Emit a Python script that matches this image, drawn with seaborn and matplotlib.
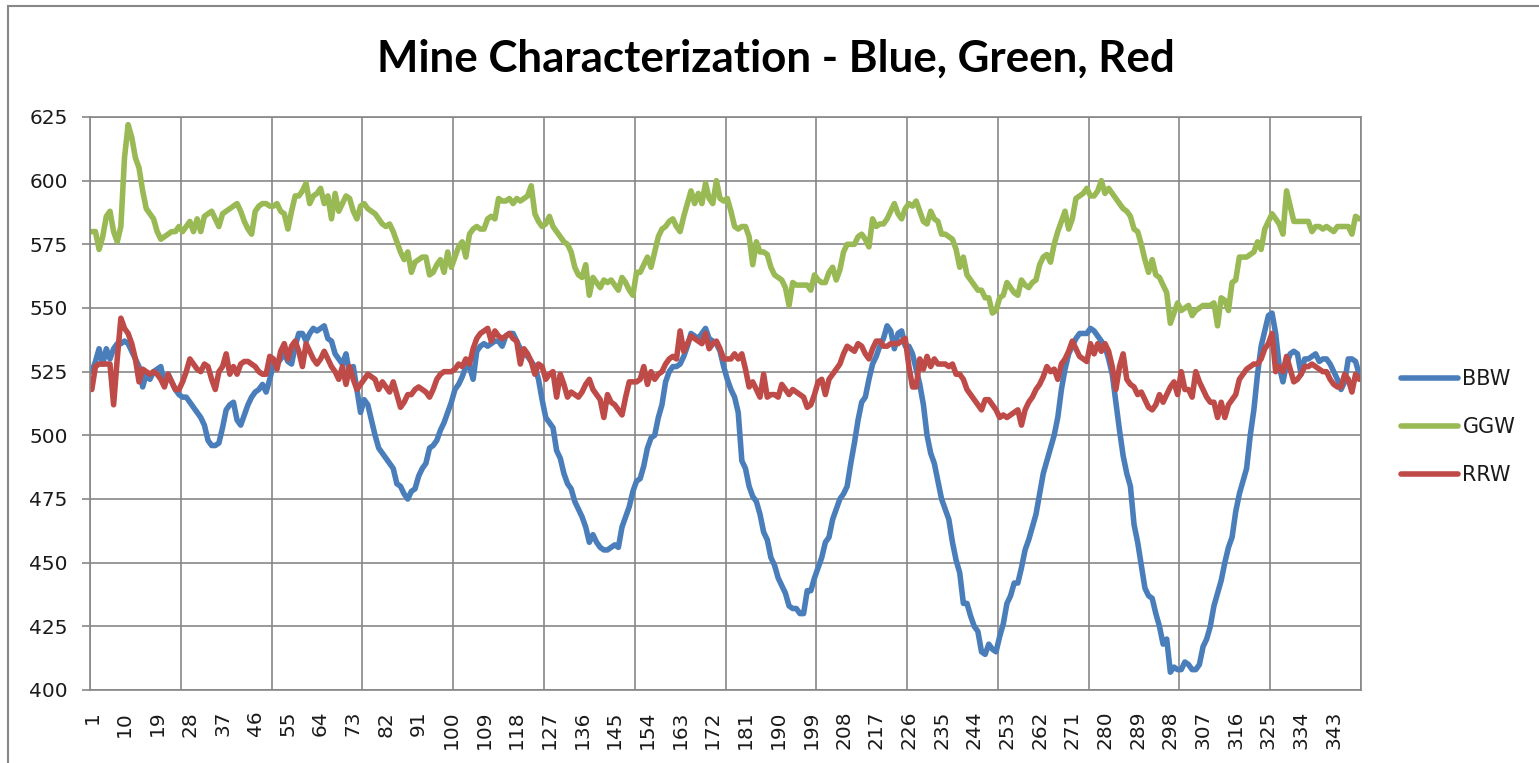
import numpy as np
import pandas as pd
import matplotlib
matplotlib.use("Agg")
import matplotlib.pyplot as plt
import seaborn as sns
from matplotlib.patches import Rectangle

# ---------------- data ----------------
categories = list(range(1, 351))

bbw = [
    525, 529, 534, 528, 534, 530, 534, 536, 536, 537,
    536, 533, 530, 527, 519, 524, 522, 525, 526, 527,
    520, 524, 521, 518, 516, 515, 515, 513, 511, 509,
    507, 504, 498, 496, 496, 497, 503, 510, 512, 513,
    506, 504, 508, 512, 515, 517, 518, 520, 517, 522,
    528, 528, 530, 532, 529, 528, 535, 540, 540, 537,
    540, 542, 541, 542, 543, 538, 537, 532, 530, 528,
    532, 524, 527, 518, 509, 514, 512, 506, 500, 495,
    493, 491, 489, 487, 481, 480, 477, 475, 478, 479,
    484, 487, 489, 495, 496, 498, 502, 505, 509, 513,
    518, 520, 523, 527, 527, 522, 533, 535, 536, 535,
    536, 537, 537, 535, 539, 540, 540, 537, 534, 532,
    531, 529, 527, 522, 514, 507, 505, 503, 494, 491,
    485, 481, 479, 474, 471, 468, 464, 458, 461, 458,
    456, 455, 455, 456, 457, 456, 464, 468, 472, 478,
    482, 483, 488, 495, 499, 500, 507, 512, 521, 525,
    527, 527, 528, 531, 535, 540, 539, 538, 540, 542,
    538, 537, 536, 533, 527, 522, 518, 515, 509, 490,
    487, 480, 476, 474, 469, 462, 459, 452, 449, 444,
    441, 438, 433, 432, 432, 430, 430, 439, 439, 444,
    448, 452, 458, 460, 467, 471, 475, 477, 480, 489,
    497, 506, 513, 515, 522, 528, 531, 535, 538, 543,
    541, 534, 540, 541, 535, 535, 532, 526, 520, 512,
    500, 493, 489, 482, 475, 471, 467, 458, 451, 446,
    434, 434, 429, 425, 423, 415, 414, 418, 416, 415,
    421, 426, 434, 437, 442, 442, 448, 455, 459, 464,
    469, 477, 485, 490, 495, 500, 507, 518, 526, 532,
    535, 538, 540, 540, 540, 542, 541, 539, 537, 535,
    530, 524, 513, 502, 492, 485, 480, 465, 458, 449,
    440, 437, 436, 430, 425, 418, 420, 407, 409, 408,
    408, 411, 410, 408, 408, 410, 417, 420, 425, 433,
    438, 443, 450, 456, 460, 470, 477, 482, 487, 500,
    510, 524, 535, 541, 547, 548, 540, 527, 521, 528,
    532, 533, 532, 524, 530, 530, 531, 532, 529, 530,
    530, 528, 525, 522, 518, 521, 530, 530, 529, 524,
]

ggw = [
    580, 580, 573, 578, 586, 588, 580, 576, 582, 609,
    622, 617, 609, 605, 596, 589, 587, 585, 580, 577,
    578, 579, 580, 580, 582, 580, 582, 584, 580, 585,
    580, 586, 587, 588, 585, 582, 587, 588, 589, 590,
    591, 588, 584, 581, 579, 588, 590, 591, 591, 590,
    590, 591, 588, 587, 581, 588, 594, 594, 596, 599,
    591, 594, 595, 597, 591, 594, 585, 595, 588, 591,
    594, 593, 588, 585, 590, 591, 589, 588, 587, 585,
    583, 582, 583, 580, 576, 572, 569, 572, 564, 568,
    569, 570, 570, 563, 564, 567, 569, 564, 572, 566,
    570, 574, 576, 570, 579, 581, 582, 581, 581, 585,
    586, 585, 593, 592, 592, 593, 591, 593, 592, 593,
    594, 598, 587, 584, 582, 583, 586, 582, 580, 578,
    576, 575, 572, 566, 563, 562, 567, 555, 562, 560,
    558, 561, 560, 561, 559, 557, 562, 560, 557, 555,
    564, 564, 567, 570, 566, 572, 578, 581, 582, 584,
    585, 582, 580, 586, 591, 596, 591, 595, 591, 599,
    593, 591, 600, 593, 592, 593, 588, 582, 581, 582,
    582, 578, 567, 576, 572, 572, 571, 566, 563, 562,
    561, 558, 551, 560, 559, 559, 559, 559, 557, 563,
    561, 560, 560, 564, 566, 561, 565, 572, 575, 575,
    575, 578, 579, 577, 574, 585, 582, 583, 583, 585,
    588, 591, 587, 585, 589, 591, 590, 592, 588, 584,
    583, 588, 585, 584, 579, 579, 578, 577, 573, 566,
    570, 563, 561, 559, 557, 557, 554, 554, 548, 549,
    554, 555, 560, 558, 556, 555, 561, 559, 558, 560,
    561, 567, 570, 571, 568, 575, 580, 584, 588, 581,
    585, 593, 594, 595, 597, 594, 594, 596, 600, 595,
    597, 595, 593, 591, 589, 588, 586, 581, 580, 575,
    569, 564, 569, 563, 562, 559, 556, 544, 548, 552,
    549, 550, 551, 547, 549, 550, 551, 551, 551, 552,
    543, 554, 553, 549, 560, 561, 570, 570, 570, 571,
    572, 576, 573, 581, 584, 587, 585, 583, 579, 596,
    590, 584, 584, 584, 584, 584, 580, 582, 582, 581,
    582, 581, 580, 582, 582, 582, 582, 579, 586, 585,
]

rrw = [
    518, 527, 528, 528, 528, 528, 512, 530, 546, 542,
    540, 536, 530, 521, 526, 525, 524, 525, 524, 522,
    519, 524, 521, 518, 518, 521, 525, 530, 528, 526,
    525, 528, 527, 522, 518, 525, 527, 532, 524, 527,
    524, 528, 529, 529, 528, 527, 525, 524, 524, 531,
    530, 526, 533, 536, 530, 535, 537, 533, 527, 536,
    533, 530, 528, 530, 533, 530, 527, 525, 522, 527,
    520, 527, 522, 518, 520, 522, 524, 523, 522, 518,
    521, 519, 517, 521, 516, 511, 513, 516, 516, 518,
    519, 518, 517, 515, 518, 522, 524, 525, 525, 525,
    526, 528, 527, 530, 528, 534, 538, 540, 541, 542,
    537, 541, 539, 538, 539, 540, 538, 537, 528, 534,
    532, 529, 524, 528, 527, 522, 524, 525, 515, 524,
    520, 515, 517, 516, 515, 517, 520, 522, 518, 516,
    514, 507, 516, 513, 512, 510, 508, 515, 521, 521,
    521, 522, 527, 520, 525, 522, 524, 525, 528, 530,
    531, 530, 541, 533, 536, 539, 538, 537, 536, 540,
    534, 536, 537, 534, 530, 530, 530, 532, 530, 532,
    526, 519, 521, 518, 515, 524, 515, 516, 516, 515,
    520, 518, 516, 518, 517, 516, 515, 511, 512, 516,
    521, 522, 516, 522, 524, 526, 528, 532, 535, 534,
    533, 536, 535, 532, 530, 534, 537, 537, 535, 535,
    536, 536, 536, 537, 538, 527, 519, 519, 530, 526,
    531, 527, 530, 528, 528, 528, 527, 528, 524, 524,
    522, 518, 516, 514, 512, 510, 514, 514, 512, 510,
    507, 508, 507, 508, 509, 510, 504, 510, 513, 515,
    518, 520, 523, 527, 525, 526, 522, 528, 530, 533,
    537, 534, 531, 530, 529, 536, 532, 536, 533, 536,
    533, 527, 518, 527, 532, 522, 520, 519, 516, 517,
    514, 511, 510, 512, 516, 513, 516, 519, 521, 516,
    525, 518, 518, 515, 525, 521, 518, 515, 513, 513,
    507, 513, 507, 512, 514, 516, 522, 524, 526, 527,
    528, 528, 530, 534, 536, 540, 525, 527, 525, 531,
    526, 521, 522, 524, 527, 527, 528, 527, 526, 525,
    525, 522, 520, 519, 519, 524, 522, 517, 524, 522,
]

series_names = ["BBW", "GGW", "RRW"]
series_colors = ["#4A7EBB", "#98B954", "#BE4B48"]
y_ticks = [400, 425, 450, 475, 500, 525, 550, 575, 600, 625]
x_tick_labels = list(range(1, 344, 9))
title = "Mine Characterization - Blue, Green, Red"

# ---------------- frame ----------------
df = pd.DataFrame({
    "x": categories * 3,
    "value": bbw + ggw + rrw,
    "series": [series_names[0]] * len(bbw) + [series_names[1]] * len(ggw)
              + [series_names[2]] * len(rrw),
})

sns.set_theme(style="white")
plt.rcParams["font.family"] = ["DejaVu Sans"]

W, H = 1539, 763
fig = plt.figure(figsize=(W / 100, H / 100), dpi=100)
ax = fig.add_axes([90 / W, 1 - 690 / H, (1361 - 90) / W, (690 - 117) / H])

grid_c = "#878787"
txt_c = "#1a1a1a"
lw = 4.0

sns.lineplot(data=df, x="x", y="value", hue="series", hue_order=series_names,
             palette=dict(zip(series_names, series_colors)), linewidth=lw,
             ax=ax, legend=True, solid_joinstyle="round", solid_capstyle="round")

ax.set_xlim(0.5, 350.5)
ax.set_ylim(400, 625)
ax.set_xlabel("")
ax.set_ylabel("")

ax.set_yticks(y_ticks)
ax.set_yticklabels([str(v) for v in y_ticks], fontsize=14.5, color=txt_c)
ax.set_xticks(x_tick_labels)
ax.set_xticklabels([str(v) for v in x_tick_labels], rotation=90, fontsize=14.5,
                   color=txt_c, va="top", ha="center")
ax.set_xticks(np.arange(0.5, 351, 25), minor=True)

ax.tick_params(axis="x", which="major", length=0, pad=15)
ax.tick_params(axis="x", which="minor", length=6, width=1.2, color=grid_c, direction="out")
ax.tick_params(axis="y", which="major", length=6, width=1.2, color=grid_c, direction="out", pad=10, left=True)

ax.grid(False)
ax.grid(axis="y", which="major", color=grid_c, linewidth=1.2)
ax.grid(axis="x", which="minor", color=grid_c, linewidth=1.2)
ax.set_axisbelow(True)
for s in ax.spines.values():
    s.set_color(grid_c)
    s.set_linewidth(1.2)
    s.set_visible(True)

# legend
handles, labels = ax.get_legend_handles_labels()
ax.get_legend().remove()
leg = fig.legend(handles, labels, loc="center left",
                 bbox_to_anchor=(1401 / W, 1 - 427 / H),
                 frameon=False, fontsize=15, handlelength=2.75,
                 handletextpad=0.2, labelspacing=1.35, borderpad=0,
                 borderaxespad=0)
for t in leg.get_texts():
    t.set_color(txt_c)
for l in leg.get_lines():
    l.set_linewidth(lw)

# title
fig.text(776 / W, 1 - 59 / H, title, ha="center", va="center",
         fontsize=31.6, fontweight="bold", family=["Lato", "DejaVu Sans"], color="black")

# outer chart border
fig.patches.append(Rectangle((8 / W, -0.05), 1.2, (1 - 6 / H) + 0.05,
                             transform=fig.transFigure, fill=False,
                             edgecolor=grid_c, linewidth=1.5))

fig.savefig("out.png", dpi=100)
